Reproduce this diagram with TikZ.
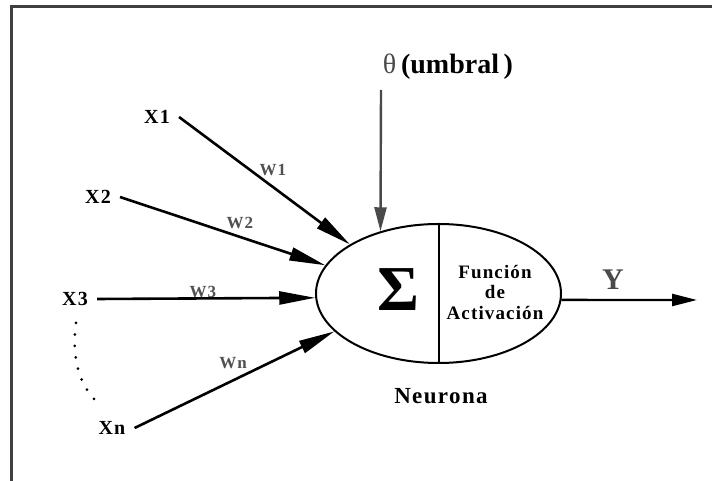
\documentclass[tikz,border=0pt]{standalone}
\usepackage{fontspec}
\setmainfont[LetterSpace=6]{Liberation Serif}
\usepackage{xcolor}
\usepackage{tikz}
\usetikzlibrary{arrows.meta,shapes.geometric}
\definecolor{marco}{HTML}{404040}
\definecolor{gris}{HTML}{4A4A4A}
\definecolor{pesogris}{HTML}{505050}

\begin{document}
\begin{tikzpicture}[x=1pt, y=1pt, >=Stealth,
  entrada/.style={font=\bfseries\fontsize{20}{20}\selectfont, inner xsep=9pt, inner ysep=3pt},
  peso/.style={font=\bfseries\fontsize{17}{17}\selectfont, text=pesogris, inner sep=0pt},
  flecha/.style={->, line width=2.6pt, >={Triangle[length=36pt,width=13pt]}},
  neurona/.style={ellipse, draw, line width=2pt, minimum width=245pt,
                  minimum height=139pt, inner sep=0pt},
  puntos/.style={line width=3pt, line cap=round, dash pattern=on 0pt off 11.5pt}]
  \useasboundingbox (0,0) rectangle (712,481);
  \draw[line width=3pt, marco] (11,0) -- (11,474) -- (712,474);
  % neurona
  \node[neurona] (neu) at (438.5,187.5) {};
  \draw[line width=2pt] (neu.north) -- (neu.south);
  \node[font=\bfseries\fontsize{64}{64}\selectfont\addfontfeatures{LetterSpace=0}] (sigma) at (398,191) {Σ};
  \node[align=center, font=\bfseries\fontsize{19}{20.5}\selectfont] (fact) at (495,189)
    {Función\\de\\Activación};
  \node[font=\bfseries\fontsize{23}{23}\selectfont] (etiq) at (441,85) {Neurona};
  % umbral
  \node[font=\bfseries\fontsize{28}{28}\selectfont\addfontfeatures{LetterSpace=0}] (theta) at (448,414)
    {{\mdseries\color{gris}θ}\,(umbral\,)};
  \coordinate (umb) at (381,391);
  \draw[->, gris, line width=2.4pt, >={Triangle[length=24pt,width=12pt]}] (umb) -- (neu.133);
  % entradas
  \node[entrada] (x1) at (157,364) {X1};
  \node[entrada] (x2) at (98,284) {X2};
  \node[entrada] (x3) at (75,182) {X3};
  \node[entrada] (xn) at (112,53) {Xn};
  \draw[flecha] (x1.east) -- (neu.151.6);
  \draw[flecha] (x2.east) -- (neu.166);
  \draw[flecha] (x3.east) -- (neu.182.5);
  \draw[flecha] (xn.east) -- (neu.200.5);
  \node[peso] (w1) at (273,311) {W1};
  \node[peso] (w2) at (240,258) {W2};
  \node[peso] (w3) at (203,189) {W3};
  \node[peso] (wn) at (233,118) {Wn};
  \coordinate (d1) at (76,158);
  \coordinate (d2) at (96,80);
  \draw[puntos] (d1) .. controls (72,130) and (76,100) .. (d2);
  % salida
  \coordinate (sal) at (697,181);
  \draw[->, line width=2.4pt, >={Triangle[length=25pt,width=12pt]}] (neu.-3) -- (sal);
  \node[font=\bfseries\fontsize{30}{30}\selectfont, text=gris] (y) at (613,201) {Y};
\end{tikzpicture}
\end{document}
